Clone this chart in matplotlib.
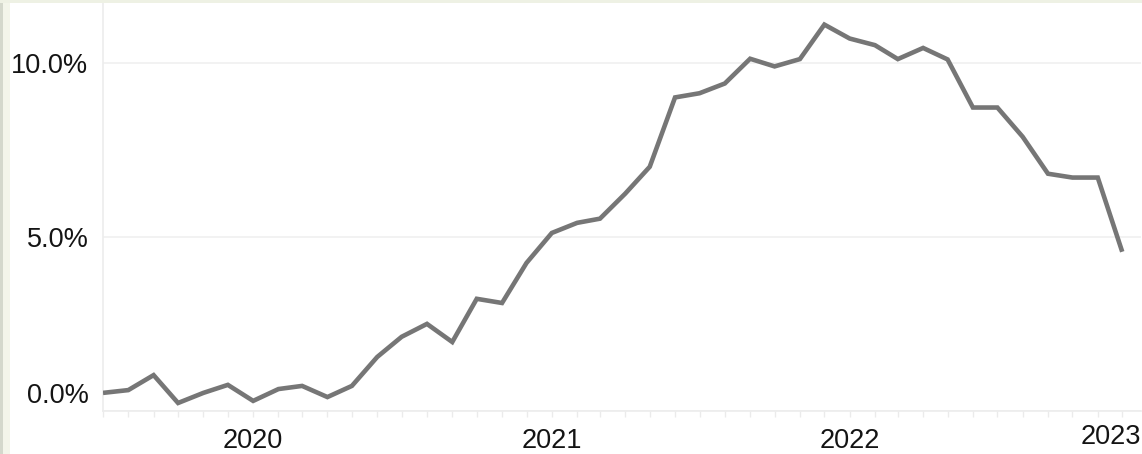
import matplotlib
matplotlib.use("Agg")
import matplotlib.pyplot as plt
import matplotlib.dates as mdates
import matplotlib.transforms as mtrans
import numpy as np
import pandas as pd

# ---- data ----
months = pd.date_range("2019-07-01", "2022-12-01", freq="MS")
values = [
    0.52, 0.60, 1.03, 0.23, 0.52, 0.75,            # Jul-Dec 2019
    0.29, 0.63, 0.72, 0.40, 0.72, 1.55,            # Jan-Jun 2020
    2.13, 2.50, 1.98, 3.22, 3.10, 4.25,            # Jul-Dec 2020
    5.11, 5.40, 5.52, 6.24, 7.01, 9.00,            # Jan-Jun 2021
    9.12, 9.40, 10.11, 9.89, 10.10, 11.09,         # Jul-Dec 2021
    10.69, 10.50, 10.10, 10.42, 10.09, 8.71,       # Jan-Jun 2022
    8.71, 7.87, 6.81, 6.70, 6.70, 4.57,            # Jul-Dec 2022
]
y_ticks = [0, 5, 10]
y_tick_labels = ["0.0%", "5.0%", "10.0%"]
year_ticks = ["2020-01-01", "2021-01-01", "2022-01-01"]
year_labels = ["2020", "2021", "2022"]
last_year_label = "2023"

W, H = 1142, 454
fig = plt.figure(figsize=(W / 100, H / 100), dpi=100)
fig.patch.set_facecolor("white")

# frame decorations (light borders at top/left)
fig.patches.append(plt.Rectangle((0, 0), 10 / W, 1, transform=fig.transFigure,
                                 facecolor="#f3f5ea", edgecolor="none", zorder=0))
fig.patches.append(plt.Rectangle((0, 0), 3 / W, 1, transform=fig.transFigure,
                                 facecolor="#d4d8cc", edgecolor="none", zorder=0))
fig.patches.append(plt.Rectangle((0, 1 - 3 / H), 1, 3 / H, transform=fig.transFigure,
                                 facecolor="#eef1e4", edgecolor="none", zorder=0))

ax_left, ax_right = 103 / W, 1141 / W
ax_bottom, ax_top = (H - 411) / H, (H - 3) / H
ax = fig.add_axes([ax_left, ax_bottom, ax_right - ax_left, ax_top - ax_bottom])
ax.set_facecolor("white")

ax.plot(months, values, color="#767676", linewidth=3.3, solid_joinstyle="miter",
        solid_capstyle="butt", zorder=3)

x0 = pd.Timestamp("2019-07-01")
x1 = pd.Timestamp("2022-12-24")
ax.set_xlim(x0, x1)
ax.set_ylim(0, 11.71)

text_color = "#141414"
fs = 19.5
font = "Liberation Sans"

ax.set_yticks(y_ticks)
ax.set_yticklabels(y_tick_labels, fontsize=fs, color=text_color, family=font)
ax.tick_params(axis="y", length=0, pad=10.5)
# the 0.0% label is nudged upward in the reference
lbl0 = ax.get_yticklabels()[0]
lbl0.set_transform(lbl0.get_transform() +
                   mtrans.ScaledTranslation(0, 18 / 100, fig.dpi_scale_trans))

ax.set_xticks(pd.to_datetime(year_ticks))
ax.set_xticklabels(year_labels, fontsize=fs, color=text_color, family=font)
ax.xaxis.set_minor_locator(mdates.MonthLocator())
ax.tick_params(axis="x", which="major", length=4, width=1, color="#ebebeb", pad=8)
ax.tick_params(axis="x", which="minor", length=4, width=1, color="#ebebeb")

t = ax.text(1.0, 0.0, last_year_label, ha="right", va="top",
            fontsize=fs, color=text_color, family=font)
t.set_transform(ax.transAxes +
                mtrans.ScaledTranslation(0, -13 / 100, fig.dpi_scale_trans))

ax.grid(axis="y", color="#f0f0f0", linewidth=1.2, zorder=0)
for s in ["top", "right"]:
    ax.spines[s].set_visible(False)
ax.spines["left"].set_color("#ececec")
ax.spines["left"].set_linewidth(1.2)
ax.spines["bottom"].set_color("#ececec")
ax.spines["bottom"].set_linewidth(1.2)

fig.savefig("out.png", dpi=100, facecolor=fig.get_facecolor())
